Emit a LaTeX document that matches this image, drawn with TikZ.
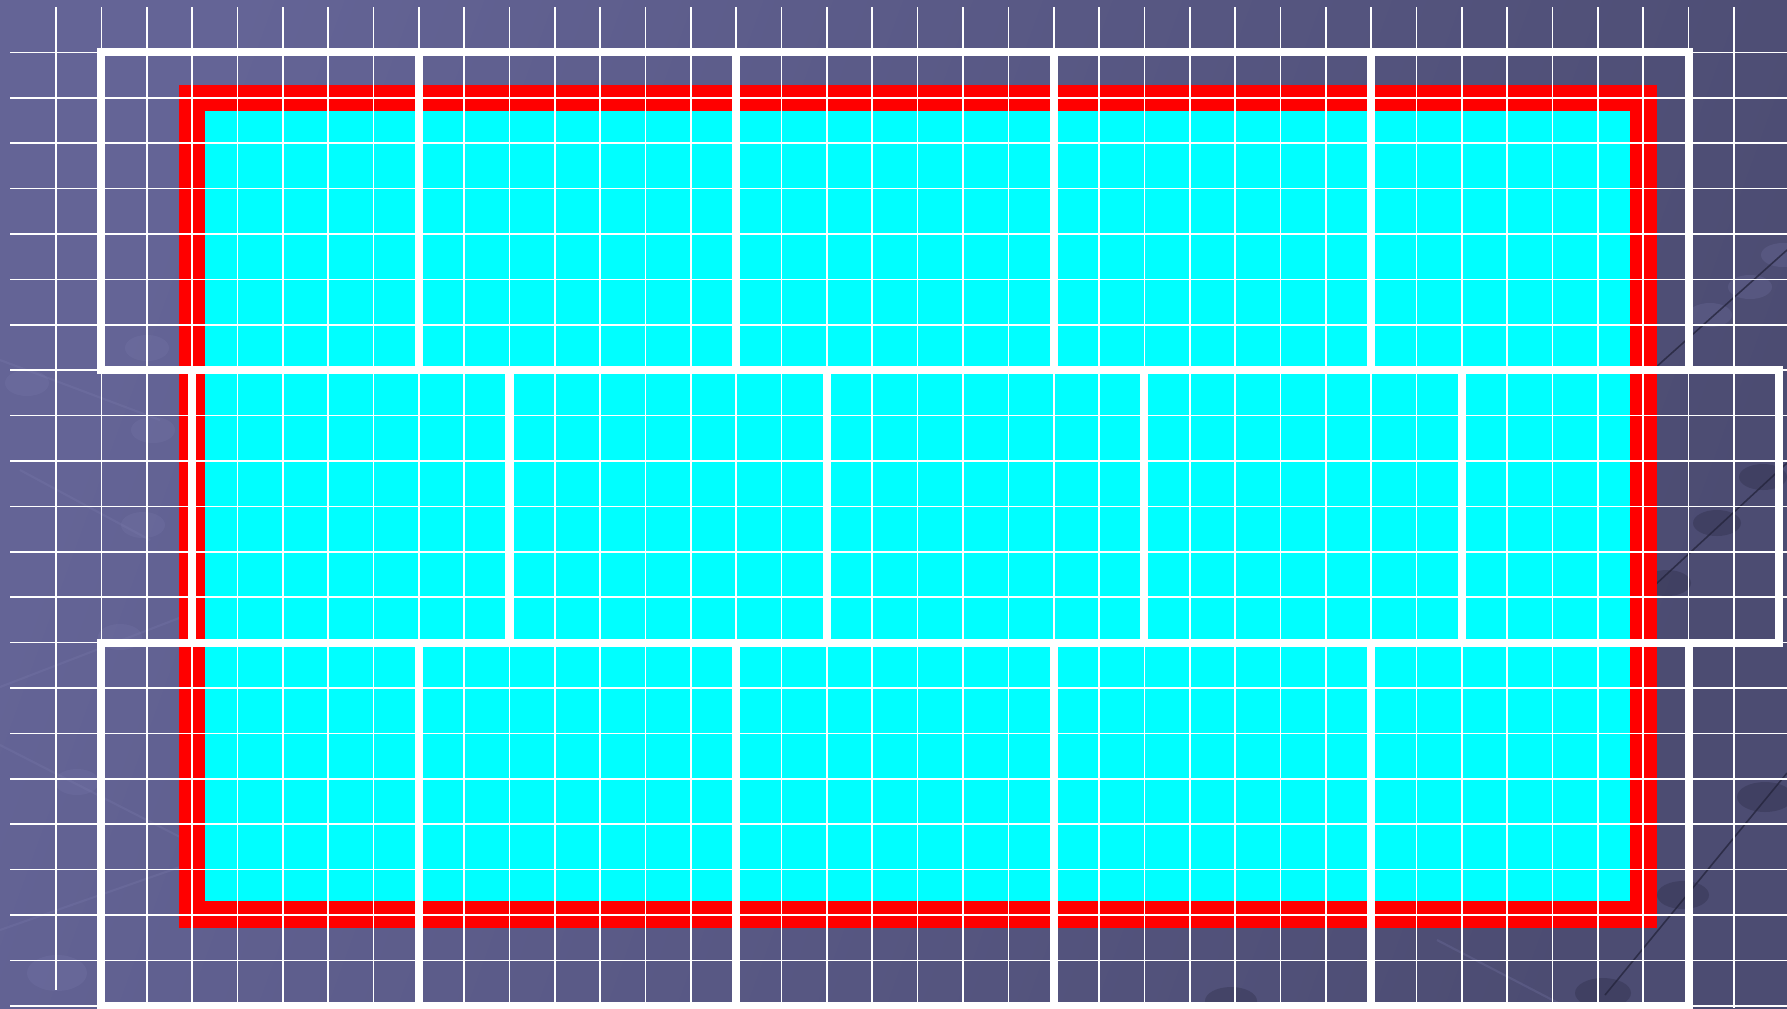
\documentclass[tikz,border=0pt]{standalone}
\usetikzlibrary{shadings}
\definecolor{bgA}{RGB}{100,100,150}
\definecolor{bgB}{RGB}{76,76,114}
\definecolor{brickred}{RGB}{255,0,0}
\definecolor{cyanfill}{RGB}{0,255,255}
\definecolor{decodark}{RGB}{38,38,62}
\definecolor{decolight}{RGB}{125,125,175}
\tikzset{
  thingrid/.style={white, line width=0.46pt},
  thickline/.style={white, line width=2.3pt, line join=miter},
  darkrod/.style={decodark, line width=0.45pt, opacity=0.8},
  darkball/.style={fill=decodark, opacity=0.3},
  lightrod/.style={decolight, line width=0.6pt, opacity=0.25},
  lightball/.style={fill=decolight, opacity=0.22},
}
\begin{document}
\begin{tikzpicture}[x=0.01cm, y=-0.01cm]
\useasboundingbox (0,0) rectangle (1787,1008);
% background
\shade[left color=bgA, right color=bgB, shading angle=70] (0,0) rectangle (1787,1008);
% faint light background decorations
\draw[lightrod] (0,687) -- (200,610);
\draw[lightrod] (0,745) -- (180,837);
\draw[lightrod] (0,360) -- (160,420);
\draw[lightrod] (0,930) -- (200,860);
\draw[lightrod] (20,470) -- (150,540);
\draw[lightrod] (1437,940) -- (1564,1006);
\fill[lightball] (143,525) ellipse (22 and 13);
\fill[lightball] (120,637) ellipse (22 and 13);
\fill[lightball] (77,782) ellipse (22 and 13);
\fill[lightball] (57,973) ellipse (30 and 18);
\fill[lightball] (147,348) ellipse (22 and 13);
\fill[lightball] (27,383) ellipse (22 and 13);
\fill[lightball] (153,430) ellipse (22 and 13);
\fill[lightball] (1710,315) ellipse (22 and 12);
\fill[lightball] (1750,287) ellipse (22 and 12);
\fill[lightball] (1783,255) ellipse (22 and 12);
% dark rods on the right
\draw[darkrod] (1787,250) -- (1655,368);
\draw[darkrod] (1787,463) -- (1655,585);
\draw[darkrod] (1787,773) -- (1605,995);
\fill[darkball] (1763,477) ellipse (24 and 13);
\fill[darkball] (1717,523) ellipse (24 and 13);
\fill[darkball] (1667,583) ellipse (24 and 13);
\fill[darkball] (1765,797) ellipse (28 and 15);
\fill[darkball] (1683,895) ellipse (26 and 14);
\fill[darkball] (1603,993) ellipse (28 and 15);
\fill[darkball] (1231,1001) ellipse (26 and 14);
% red frame and cyan field
\fill[brickred] (179,85) rectangle (1657,928);
\fill[cyanfill] (205,111) rectangle (1630,901);
% thin grid
\foreach \k in {1,...,37} {
  \draw[thingrid] ({56+45.35*\k},7) -- ({56+45.35*\k},1008);
}
\draw[thingrid] (56,7) -- (56,990);
\foreach \j in {0,...,21} {
  \draw[thingrid] (10,{52.4+45.4*\j}) -- (1787,{52.4+45.4*\j});
}
% thick brick outlines
% top row: columns 1..36, rows 0..7
\draw[thickline] ({56+45.35*1},52.4) rectangle ({56+45.35*36},{52.4+45.4*7});
\foreach \k in {8,15,22,29} {
  \draw[thickline] ({56+45.35*\k},52.4) -- ({56+45.35*\k},{52.4+45.4*7});
}
% middle row: columns 3..38, rows 7..13
\draw[thickline] ({56+45.35*3},{52.4+45.4*7}) rectangle ({56+45.35*38},{52.4+45.4*13});
\foreach \k in {10,17,24,31} {
  \draw[thickline] ({56+45.35*\k},{52.4+45.4*7}) -- ({56+45.35*\k},{52.4+45.4*13});
}
% bottom row: columns 1..36, rows 13..21
\draw[thickline] ({56+45.35*1},{52.4+45.4*13}) rectangle ({56+45.35*36},{52.4+45.4*21});
\foreach \k in {8,15,22,29} {
  \draw[thickline] ({56+45.35*\k},{52.4+45.4*13}) -- ({56+45.35*\k},{52.4+45.4*21});
}
\end{tikzpicture}
\end{document}
